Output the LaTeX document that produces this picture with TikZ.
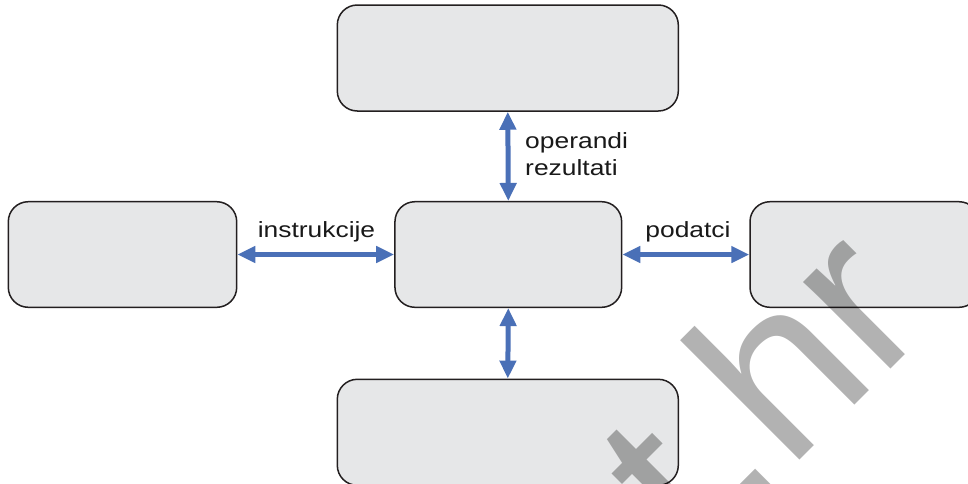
\documentclass[tikz,border=0pt]{standalone}
\usepackage{fontspec}
\setmainfont{Liberation Sans}
\usetikzlibrary{arrows.meta}
\definecolor{boxfill}{RGB}{230,231,232}
\definecolor{boxline}{RGB}{35,31,32}
\definecolor{arrowblue}{RGB}{74,112,183}
\tikzset{
  unit/.style={draw=boxline, line width=1.5pt, fill=boxfill, rounded corners=20pt, inner sep=0pt},
  link/.style={arrowblue, line width=5pt, {Triangle[length=18pt,width=16pt]}-{Triangle[length=18pt,width=16pt]}, shorten <=0pt, shorten >=0pt},
  lab/.style={font=\fontsize{22}{27}\selectfont, text=black!90, inner sep=0pt, xscale=1.2}
}
\begin{document}
\begin{tikzpicture}[x=1pt,y=-1pt]
\useasboundingbox (0,0) rectangle (968,483);
\clip (0,0) rectangle (968,483);
\fill[white] (0,0) rectangle (968,483);
\node[unit, minimum width=341pt, minimum height=106pt] (top) at (507.8,58) {};
\node[unit, minimum width=228.4pt, minimum height=105.6pt] (left) at (122.5,254.5) {};
\node[unit, minimum width=226.7pt, minimum height=105.6pt] (cpu) at (508.3,254.5) {};
\node[unit, minimum width=229pt, minimum height=105.6pt] (right) at (864.5,254.5) {};
\node[unit, minimum width=341pt, minimum height=106pt] (bottom) at (507.8,432.3) {};
\draw[link] (top.south) -- (cpu.north);
\draw[link] (cpu.south) -- (bottom.north);
\draw[link] (left.east) -- (cpu.west);
\draw[link] (cpu.east) -- (right.west);
\node[lab, anchor=base west] (op) at (525,148) {operandi};
\node[lab, anchor=base west] (rez) at (525,175) {rezultati};
\node[lab, anchor=base] (ins) at (316.5,237) {instrukcije};
\node[lab, anchor=base] (pod) at (688,237) {podatci};
\node[anchor=base west, rotate=45, inner sep=0pt, text=black, text opacity=0.3,
      font=\fontsize{233}{240}\selectfont] (wm) at (696.6,563.4) {t.hr};
\end{tikzpicture}
\end{document}
